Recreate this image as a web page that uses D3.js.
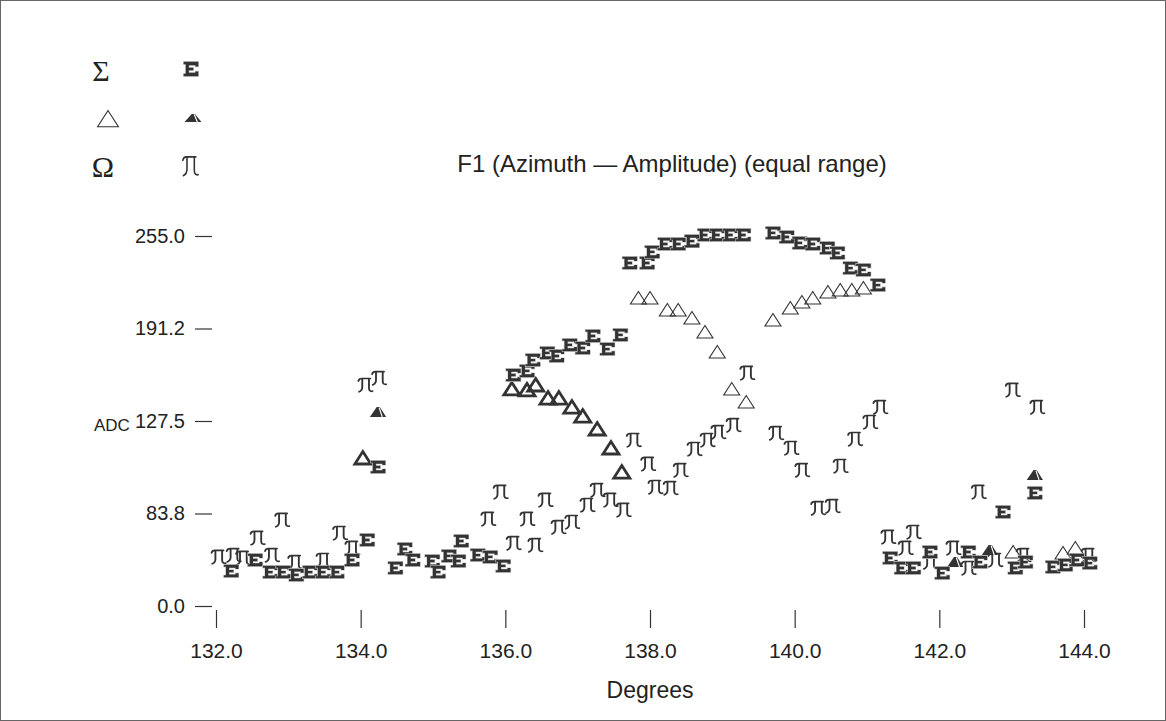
<!DOCTYPE html>
<html>
<head>
<meta charset="utf-8">
<script src="https://cdn.jsdelivr.net/npm/d3@7"></script>
<style>
  html, body { margin: 0; padding: 0; background: #fff; }
  svg { display: block; }
</style>
</head>
<body>
<svg id="chart" width="1166" height="721"></svg>
<script>
// ---------------- DATA ----------------
const xTickValues = [132, 134, 136, 138, 140, 142, 144];
const xTickLabels = ["132.0", "134.0", "136.0", "138.0", "140.0", "142.0", "144.0"];
const yTickValues = [0, 63.75, 127.5, 191.25, 255];
const yTickLabels = ["0.0", "83.8", "127.5", "191.2", "255.0"];

const titleText = "F1 (Azimuth \u2014 Amplitude) (equal range)";
const xLabel = "Degrees";
const yLabel = "ADC";
const legendNames = ["\u03A3", "\u03A9"];

// Sigma series (E markers)
const sigmaDeg = [132.21, 132.54, 132.75, 132.93, 133.11, 133.30, 133.48, 133.67, 133.88, 134.09,
  134.24, 134.48, 134.61, 134.72, 134.99, 135.07, 135.22, 135.35, 135.39, 135.62, 135.79, 135.97,
  136.11, 136.30, 136.38, 136.58, 136.71, 136.89, 137.07, 137.21, 137.41, 137.59,
  137.72, 137.96, 138.03, 138.21, 138.39, 138.58, 138.76, 138.93, 139.11, 139.29,
  139.70, 139.89, 140.07, 140.25, 140.45, 140.59, 140.77, 140.95, 141.15,
  141.32, 141.48, 141.64, 141.87, 142.04, 142.40, 142.56, 142.88, 143.05, 143.19, 143.32,
  143.57, 143.74, 143.90, 144.08];
const sigmaVal = [24.1, 31.7, 23.4, 23.4, 21.4, 23.4, 23.4, 23.4, 31.7, 45.5,
  95.8, 26.2, 39.3, 31.7, 31.0, 23.4, 34.5, 31.0, 44.8, 35.1, 33.8, 27.6,
  159.2, 162.0, 169.5, 174.4, 172.3, 179.9, 177.8, 186.1, 177.1, 186.8,
  236.4, 236.4, 244.0, 249.5, 249.5, 251.5, 255.7, 255.7, 255.7, 255.7,
  257.1, 254.3, 250.2, 249.5, 246.7, 243.3, 232.9, 231.6, 221.2,
  33.1, 26.2, 26.2, 37.2, 22.7, 37.2, 30.3, 64.8, 26.2, 30.3, 77.9,
  26.9, 28.3, 31.7, 29.6];

// Delta series: open triangles (plain)
const deltaDeg = [137.84, 138.00, 138.24, 138.39, 138.58, 138.76, 138.93, 139.13, 139.33,
  139.70, 139.94, 140.10, 140.25, 140.46, 140.63, 140.79, 140.95,
  143.02, 143.71, 143.88];
const deltaVal = [212.3, 212.3, 204.0, 204.0, 198.5, 188.8, 175.1, 149.6, 140.6,
  197.1, 205.4, 209.5, 212.3, 216.4, 217.8, 217.8, 219.2,
  37.2, 36.5, 40.0];
// Delta series: heavy triangles
const deltaHeavyDeg = [134.03, 136.09, 136.30, 136.42, 136.59, 136.74, 136.92, 137.07, 137.27, 137.46, 137.61];
const deltaHeavyVal = [102.0, 149.6, 148.9, 152.3, 143.3, 143.3, 137.1, 130.9, 122.0, 108.9, 92.3];
// Delta series: filled markers
const deltaFilledDeg = [134.24, 142.22, 142.70, 143.32];
const deltaFilledVal = [133.7, 30.3, 38.6, 90.3];

// Omega series (pulse markers)
const omegaDeg = [132.03, 132.24, 132.37, 132.57, 132.77, 132.91, 133.09, 133.48, 133.71, 133.88,
  134.06, 134.25,
  135.76, 135.93, 136.11, 136.30, 136.41, 136.55, 136.73, 136.92, 137.13, 137.27, 137.45, 137.63,
  137.77, 137.97, 138.07, 138.28, 138.42, 138.61, 138.79, 138.94, 139.15, 139.34,
  139.74, 139.95, 140.10, 140.32, 140.52, 140.63, 140.83, 141.04, 141.18,
  141.29, 141.53, 141.64, 141.87, 142.19, 142.40, 142.54, 142.77, 143.01, 143.16, 143.35, 144.06];
const omegaVal = [33.8, 35.1, 33.1, 46.9, 35.1, 59.3, 30.3, 31.7, 50.3, 40.0,
  152.3, 157.1,
  60.0, 78.6, 43.4, 60.0, 42.0, 73.1, 54.4, 57.9, 69.6, 79.9, 73.1, 66.2,
  114.4, 97.9, 82.0, 81.3, 93.7, 108.2, 114.4, 119.9, 124.7, 160.6,
  119.2, 108.9, 93.7, 67.5, 68.9, 96.5, 115.1, 126.8, 137.1,
  47.6, 40.0, 51.0, 30.3, 40.0, 26.2, 78.6, 31.7, 148.9, 35.1, 137.1, 35.1];

// ---------------- CHART ----------------
const W = 1166, H = 721;
const svg = d3.select("#chart");
const ink = "#333";
const sans = "'Liberation Sans', Arial, sans-serif";
const serif = "'Liberation Serif', 'Times New Roman', serif";

svg.append("rect").attr("x", 0.5).attr("y", 0.5).attr("width", W - 1).attr("height", H - 1)
  .attr("fill", "#fff").attr("stroke", "#666").attr("stroke-width", 1);

const x = d3.scaleLinear().domain([132, 144]).range([216, 1084]);
const y = d3.scaleLinear().domain([0, 255]).range([606, 236]);

// marker shapes (custom d3 symbol types)
const symE = { draw(ctx) {
  const pts = [[-7,-6],[7,-6],[7,-2],[4.2,-2],[4.2,-3.2],[-2,-3.2],[-2,-1.1],[2.2,-1.1],[2.2,1.1],[-2,1.1],
    [-2,3.2],[4.2,3.2],[4.2,2],[7,2],[7,6],[-7,6],[-7,4],[-5,4],[-5,-4],[-7,-4]];
  ctx.moveTo(pts[0][0], pts[0][1]);
  for (let i = 1; i < pts.length; i++) ctx.lineTo(pts[i][0], pts[i][1]);
  ctx.closePath(); } };
const symTri = { draw(ctx) {
  ctx.moveTo(0, -6.5); ctx.lineTo(8, 6); ctx.lineTo(-8, 6); ctx.closePath(); } };
const symMount = { draw(ctx) {
  ctx.moveTo(-6.5, 4); ctx.lineTo(-1, -4); ctx.lineTo(1.5, -4); ctx.lineTo(6.5, 4); ctx.closePath(); } };
const symPulse = { draw(ctx) {
  ctx.moveTo(-6, -4); ctx.quadraticCurveTo(-5.5, -6.5, -3, -6.5); ctx.lineTo(4.8, -6.5);
  ctx.moveTo(-2.5, -6.5); ctx.lineTo(-2.5, 2); ctx.quadraticCurveTo(-2.5, 5.8, -5.5, 6.8);
  ctx.moveTo(3.6, -6.5); ctx.lineTo(3.6, 3); ctx.quadraticCurveTo(3.6, 6.8, 6.8, 6.2); } };

const gen = type => d3.symbol().type(type)();

function drawE(g, xs, ys, s) {
  g.selectAll(null).data(d3.zip(xs, ys)).join("path")
    .attr("transform", d => `translate(${x(d[0])},${y(d[1])}) scale(${s})`)
    .attr("d", gen(symE))
    .attr("fill", ink).attr("stroke", "#c8c8c8").attr("stroke-width", 1.1).attr("paint-order", "stroke");
}
function drawTri(g, xs, ys, sw) {
  g.selectAll(null).data(d3.zip(xs, ys)).join("path")
    .attr("transform", d => `translate(${x(d[0])},${y(d[1])})`)
    .attr("d", gen(symTri))
    .attr("fill", "none").attr("stroke", ink).attr("stroke-width", sw);
}
function drawMount(g, xs, ys, s) {
  const m = g.selectAll(null).data(d3.zip(xs, ys)).join("g")
    .attr("transform", d => `translate(${x(d[0])},${y(d[1])}) scale(${s})`);
  m.append("path").attr("d", gen(symMount)).attr("fill", ink);
  m.append("line").attr("x1", 0.9).attr("y1", -3.6).attr("x2", 3.4).attr("y2", 4)
    .attr("stroke", "#fff").attr("stroke-width", 0.9);
}
function drawPulse(g, xs, ys) {
  g.selectAll(null).data(d3.zip(xs, ys)).join("path")
    .attr("transform", d => `translate(${x(d[0])},${y(d[1])}) scale(1.1,1)`)
    .attr("d", gen(symPulse))
    .attr("fill", "none").attr("stroke", ink).attr("stroke-width", 1.7).attr("stroke-linecap", "round");
}

// axes
const yAxis = d3.axisLeft(y).tickValues(yTickValues)
  .tickFormat((d, i) => yTickLabels[i]).tickSize(17).tickPadding(10);
const gy = svg.append("g").attr("transform", "translate(212,0)").call(yAxis);
gy.select(".domain").remove();
gy.selectAll("line").attr("stroke", ink).attr("stroke-width", 1.2);
gy.selectAll("text").style("font-size", "20px").style("font-family", sans).attr("fill", "#222");

const xAxis = d3.axisBottom(x).tickValues(xTickValues)
  .tickFormat((d, i) => xTickLabels[i]).tickSize(18).tickPadding(15);
const gx = svg.append("g").attr("transform", "translate(0,610)").call(xAxis);
gx.select(".domain").remove();
gx.selectAll("line").attr("stroke", ink).attr("stroke-width", 1.2);
gx.selectAll("text").style("font-size", "21px").style("font-family", sans).attr("fill", "#222");

// labels
function label(txt, xx, yy, size, anchor) {
  svg.append("text").attr("x", xx).attr("y", yy).attr("text-anchor", anchor)
    .attr("dominant-baseline", "central").attr("fill", "#222")
    .style("font-family", sans).style("font-size", size + "px").text(txt);
}
label(titleText, 672, 163, 24, "middle");
label(xLabel, 650, 690, 23, "middle");
label(yLabel, 94, 425, 17, "start");

// legend
const lg = svg.append("g");
lg.selectAll("text.lname").data(legendNames).join("text").attr("class", "lname")
  .attr("x", (d, i) => i ? 103 : 101).attr("y", (d, i) => 70 + i * 96)
  .attr("text-anchor", "middle").attr("dominant-baseline", "central").attr("fill", "#222")
  .style("font-family", serif).style("font-size", "30px")
  .text(d => d);
lg.append("path").attr("transform", "translate(108,119) scale(1.3)").attr("d", gen(symTri))
  .attr("fill", "none").attr("stroke", ink).attr("stroke-width", 1.1 / 1.3);
lg.append("path").attr("transform", "translate(191,69) scale(1.05,1.2)").attr("d", gen(symE))
  .attr("fill", ink).attr("stroke", "#c8c8c8").attr("stroke-width", 1).attr("paint-order", "stroke");
const lm = lg.append("g").attr("transform", "translate(193,118) scale(1.3,1.0)");
lm.append("path").attr("d", gen(symMount)).attr("fill", ink);
lm.append("line").attr("x1", 0.9).attr("y1", -3.6).attr("x2", 3.4).attr("y2", 4).attr("stroke", "#fff").attr("stroke-width", 0.9);
lg.append("path").attr("transform", "translate(190,166) scale(1.2,1.4)").attr("d", gen(symPulse))
  .attr("fill", "none").attr("stroke", ink).attr("stroke-width", 1.3).attr("stroke-linecap", "round");

// marks
const plot = svg.append("g");
drawPulse(plot.append("g"), omegaDeg, omegaVal);
drawTri(plot.append("g"), deltaDeg, deltaVal, 1.1);
drawTri(plot.append("g"), deltaHeavyDeg, deltaHeavyVal, 2.8);
drawMount(plot.append("g"), deltaFilledDeg, deltaFilledVal, 1.25);
drawE(plot.append("g"), sigmaDeg, sigmaVal, 1.05);
</script>
</body>
</html>
